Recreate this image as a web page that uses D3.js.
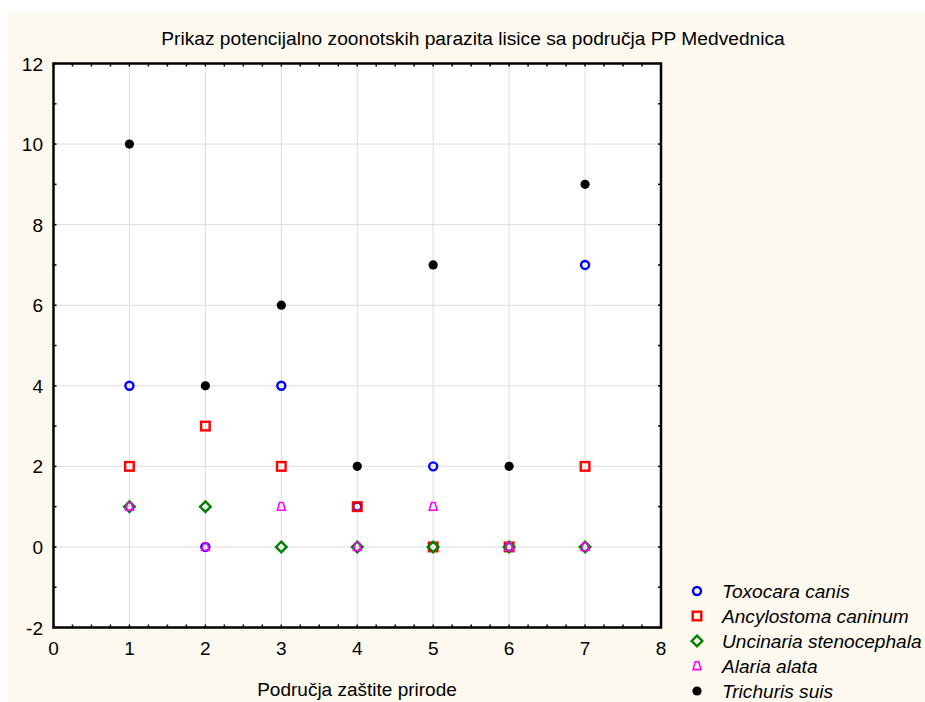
<!DOCTYPE html>
<html><head><meta charset="utf-8">
<script src="https://cdn.jsdelivr.net/npm/d3@7"></script>
<style>body{margin:0;background:#fff}svg{display:block}text{font-family:"Liberation Sans",Arial,sans-serif}</style>
</head><body><svg id="c" width="925" height="702"></svg>
<script>
const categories = [1, 2, 3, 4, 5, 6, 7];
const seriesNames = ["Toxocara canis", "Ancylostoma caninum", "Uncinaria stenocephala", "Alaria alata", "Trichuris suis"];
const toxocara = [4, 0, 4, 1, 2, 0, 7];
const ancylostoma = [2, 3, 2, 1, 0, 0, 2];
const uncinaria = [1, 1, 0, 0, 0, 0, 0];
const alaria = [1, 0, 1, 0, 1, 0, 0];
const trichuris = [10, 4, 6, 2, 7, 2, 9];
const xTicks = [0, 1, 2, 3, 4, 5, 6, 7, 8];
const yTicks = [-2, 0, 2, 4, 6, 8, 10, 12];
const title = "Prikaz potencijalno zoonotskih parazita lisice sa područja PP Medvednica";
const xTitle = "Područja zaštite prirode";

const FS = 19;
const svg = d3.select("#c");
svg.append("rect").attr("x", 8).attr("y", 13).attr("width", 917).attr("height", 689).attr("fill", "#fdf9ee");

const L = 53.5, R = 661, T = 63.5, B = 627.5;
const x = d3.scaleLinear().domain([0, 8]).range([L, R]);
const y = d3.scaleLinear().domain([-2, 12]).range([B, T]);

svg.append("rect").attr("x", L).attr("y", T).attr("width", R - L).attr("height", B - T).attr("fill", "#fff");

// grid
const g = svg.append("g");
g.selectAll(".vg").data(d3.range(1, 8)).join("line")
  .attr("x1", d => x(d)).attr("x2", d => x(d)).attr("y1", T).attr("y2", B)
  .attr("stroke", "#dcdcdc").attr("stroke-width", 1);
g.selectAll(".hg").data(d3.range(0, 12, 2)).join("line")
  .attr("y1", d => y(d)).attr("y2", d => y(d)).attr("x1", L).attr("x2", R)
  .attr("stroke", "#dcdcdc").attr("stroke-width", 1);

// minor ticks (inside)
const xMinor = d3.range(0, 8.001, 0.25);
const yMinor = d3.range(-2, 12.001, 1);
const tk = svg.append("g").attr("stroke", "#000").attr("stroke-width", 1.5);
tk.selectAll(".tb").data(xMinor).join("line").attr("x1", d => x(d)).attr("x2", d => x(d)).attr("y1", B).attr("y2", B - 3);
tk.selectAll(".tt").data(xMinor).join("line").attr("x1", d => x(d)).attr("x2", d => x(d)).attr("y1", T).attr("y2", T + 3);
tk.selectAll(".tl").data(yMinor).join("line").attr("y1", d => y(d)).attr("y2", d => y(d)).attr("x1", L).attr("x2", L + 3);
tk.selectAll(".tr").data(yMinor).join("line").attr("y1", d => y(d)).attr("y2", d => y(d)).attr("x1", R).attr("x2", R - 3);

// frame
svg.append("rect").attr("x", L).attr("y", T).attr("width", R - L).attr("height", B - T)
  .attr("fill", "none").attr("stroke", "#000").attr("stroke-width", 2.5);

// axes labels
svg.selectAll(".xl").data(xTicks).join("text").attr("x", d => x(d)).attr("y", 655)
  .attr("text-anchor", "middle").attr("font-size", FS).text(d => d);
svg.selectAll(".yl").data(yTicks).join("text").attr("x", 43).attr("y", d => y(d) + 7)
  .attr("text-anchor", "end").attr("font-size", FS).text(d => d);

svg.append("text").attr("x", 473).attr("y", 45).attr("text-anchor", "middle").attr("font-size", 19.2).text(title);
svg.append("text").attr("x", 357).attr("y", 696).attr("text-anchor", "middle").attr("font-size", FS).text(xTitle);

// markers
function drawMarker(sel, type) {
  if (type === 0) sel.append("circle").attr("r", 4).attr("fill", "none").attr("stroke", "#0000ff").attr("stroke-width", 2.4);
  else if (type === 1) sel.append("rect").attr("x", -4.3).attr("y", -4.3).attr("width", 8.6).attr("height", 8.6).attr("fill", "none").attr("stroke", "#ff0000").attr("stroke-width", 2.4);
  else if (type === 2) sel.append("path").attr("d", "M0,-5.3L5.3,0L0,5.3L-5.3,0Z").attr("fill", "none").attr("stroke", "#008000").attr("stroke-width", 2.4);
  else if (type === 3) sel.append("path").attr("d", "M-1.8,-4.2L1.8,-4.2L3.9,3.6L-3.9,3.6Z").attr("fill", "none").attr("stroke", "#ff00ff").attr("stroke-width", 1.6);
  else sel.append("circle").attr("r", 4.6).attr("fill", "#000");
}
const allSeries = [toxocara, ancylostoma, uncinaria, alaria, trichuris];
allSeries.forEach((vals, si) => {
  const grp = svg.append("g");
  categories.forEach((c, i) => {
    const m = grp.append("g").attr("transform", `translate(${x(c)},${y(vals[i])})`);
    drawMarker(m, si);
  });
});

// legend
const lg = svg.append("g");
seriesNames.forEach((n, i) => {
  const yy = 591 + i * 25;
  const m = lg.append("g").attr("transform", `translate(697,${yy})`);
  drawMarker(m, i);
  lg.append("text").attr("x", 722).attr("y", yy + 7).attr("font-size", 19.1).attr("font-style", "italic").text(n);
});
</script></body></html>
